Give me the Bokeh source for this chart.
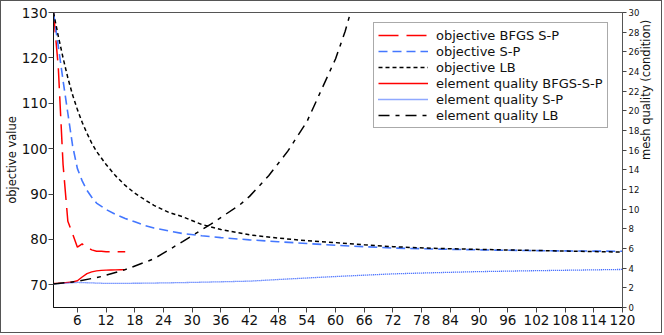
import math
from bokeh.plotting import figure
from bokeh.models import Range1d, LinearAxis, FixedTicker, Legend, LegendItem
from bokeh.embed import file_html
from bokeh.resources import INLINE

# ---- data ----
it_bfgs = list(range(1, 17))
obj_bfgs = [130, 118, 96.5, 84.0, 81.2, 78.3, 79.0, 78.2, 77.7, 77.4, 77.4, 77.3, 77.3, 77.3, 77.3, 77.3]
qual_bfgs = [2.45, 2.47, 2.5, 2.55, 2.6, 2.72, 3.1, 3.45, 3.62, 3.72, 3.78, 3.8, 3.82, 3.83, 3.84, 3.85]

it_sp = [1, 2, 3, 4, 5, 6, 7, 8, 9, 10, 12, 14, 16, 18, 20, 22, 25, 28, 32, 36, 42, 48, 54, 60, 66, 72, 80, 90, 100, 110, 120]
obj_sp = [130, 122.6, 115, 107.8, 100.6, 95.6, 92.9, 90.8, 89.3, 88.0, 86.6, 85.5, 84.6, 83.9, 83.1, 82.5, 81.9, 81.3, 80.8, 80.4,
          79.9, 79.5, 79.1, 78.7, 78.4, 78.1, 77.9, 77.7, 77.55, 77.45, 77.4]

it_lb = [1, 2, 3, 4, 5, 6, 7, 8, 9, 10, 12, 14, 16, 18, 20, 22, 25, 28, 32, 36, 42, 48, 54, 60, 66, 72, 80, 90, 100, 110, 120]
obj_lb = [130, 124.8, 120.0, 115.6, 111.8, 108.6, 105.8, 103.4, 101.2, 99.4, 96.5, 94.0, 91.9, 90.2, 88.8, 87.5, 86.0, 85.0, 83.3, 82.2,
          81.0, 80.3, 79.7, 79.3, 78.8, 78.4, 78.05, 77.8, 77.6, 77.4, 77.2]

it_qsp = [1, 6, 12, 20, 30, 42, 50, 56, 63, 72, 80, 89, 100, 110, 120]
qual_sp = [2.4, 2.55, 2.45, 2.47, 2.55, 2.68, 2.9, 3.05, 3.22, 3.42, 3.53, 3.64, 3.73, 3.8, 3.87]

it_qlb = [1, 6, 11, 16, 22, 28, 34, 40, 42, 46, 50, 54, 57, 60, 62, 64, 66]
qual_lb = [2.39, 2.65, 3.15, 3.85, 4.95, 6.7, 8.5, 10.45, 11.3, 13.4, 15.9, 18.9, 22.1, 25.3, 28.1, 31.5, 34.5]

x_ticks = list(range(6, 121, 6))
left_ticks = [70, 80, 90, 100, 110, 120, 130]
right_ticks = list(range(0, 31, 2))

labels = ["objective BFGS S-P", "objective S-P", "objective LB",
          "element quality BFGS-S-P", "element quality S-P", "element quality LB"]

FONT = "DejaVu Sans"

p = figure(width=662, height=333, output_backend="svg", toolbar_location=None,
           x_range=Range1d(1, 120), y_range=Range1d(65, 130),
           min_border_left=52, min_border_right=40, min_border_top=11, min_border_bottom=27)
p.styles = {"border": "1px solid #555555"}
p.extra_y_ranges = {"q": Range1d(0, 30)}
p.grid.visible = False
p.outline_line_color = "#555555"
p.outline_line_width = 1
p.background_fill_color = "white"
p.border_fill_color = "white"

# axes
xa = p.xaxis[0]
xa.ticker = FixedTicker(ticks=x_ticks)
ya = p.yaxis[0]
ya.ticker = FixedTicker(ticks=left_ticks)
ya.axis_label = "objective value"

ra = LinearAxis(y_range_name="q", ticker=FixedTicker(ticks=right_ticks),
                axis_label="mesh quality (condition)")
p.add_layout(ra, "right")

for ax in (xa, ya):
    ax.axis_line_color = "#111111"
    ax.major_label_text_font_size = "13.5px"
for ax in (xa, ya, ra):
    ax.major_tick_out = 5
    ax.major_tick_in = 0
    ax.minor_tick_out = 0
    ax.minor_tick_in = 0
    ax.major_tick_line_color = "#444444"
    ax.major_label_text_font = FONT
    ax.major_label_text_color = "#111111"
    ax.major_label_standoff = 2
    ax.axis_label_text_font = FONT
    ax.axis_label_text_font_style = "normal"
    ax.axis_label_text_font_size = "11.5px"
    ax.axis_label_text_color = "#111111"
ya.major_label_standoff = 1
ya.axis_label_standoff = 0
ra.axis_line_color = "#555555"
ra.major_tick_out = 4
ra.major_label_text_font_size = "8.5px"
ra.axis_label_standoff = 4
ra.axis_label_orientation = math.pi / 2

# curves
r1 = p.line(it_bfgs, obj_bfgs, line_color="#ff0000", line_width=1.5, line_dash="20 8")
r2 = p.line(it_sp, obj_sp, line_color="#4477ff", line_width=1.6, line_dash="9 5")
r3 = p.line(it_lb, obj_lb, line_color="#000000", line_width=1.5, line_dash="4 3")
r4 = p.line(it_bfgs, qual_bfgs, line_color="#ff0000", line_width=1.4, y_range_name="q")
r5 = p.line(it_qsp, qual_sp, line_color="#1f50ff", line_width=1.3, line_dash="1 1", y_range_name="q")
r6 = p.line(it_qlb, qual_lb, line_color="#000000", line_width=1.5, line_dash="11 6 4 6", y_range_name="q")

items = [LegendItem(label=lab, renderers=[r]) for lab, r in zip(labels, [r1, r2, r3, r4, r5, r6])]
legend = Legend(items=items, location=(320, 179), padding=4, spacing=0, margin=0,
                label_height=16, glyph_height=16, glyph_width=50, label_standoff=8,
                label_text_font=FONT, label_text_font_size="13px", label_text_color="#111111",
                border_line_color="#555555", border_line_width=1,
                background_fill_color="white", background_fill_alpha=1.0)
p.add_layout(legend)

open("out.html", "w").write(file_html(p, INLINE))
